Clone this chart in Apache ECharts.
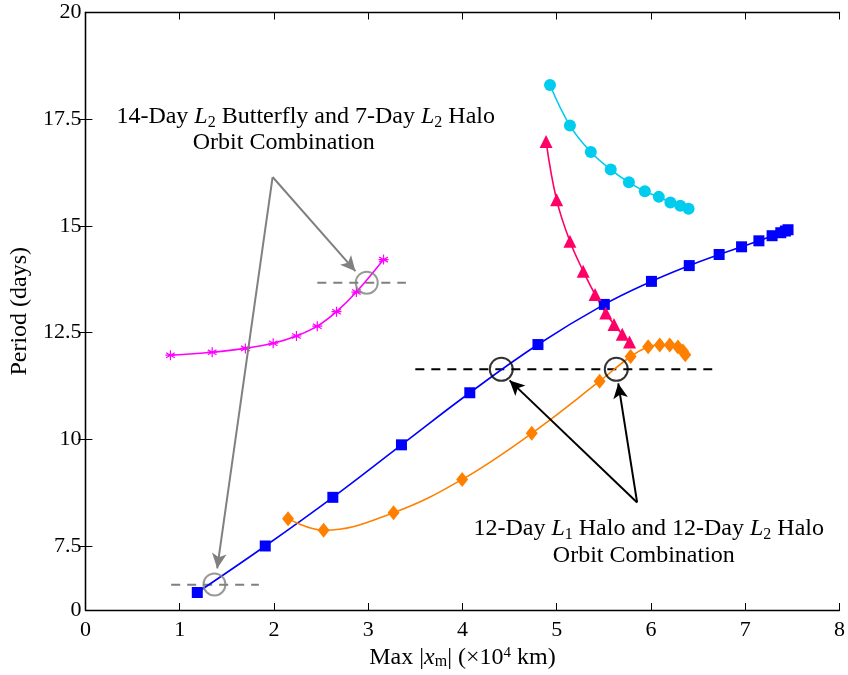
<!DOCTYPE html>
<html>
<head>
<meta charset="utf-8">
<script src="https://cdn.jsdelivr.net/npm/echarts@6/dist/echarts.min.js"></script>
<style>html,body{margin:0;padding:0;background:#fff}#c{width:848px;height:675px}</style>
</head>
<body>
<div id="c"></div>
<script>
// ---- data (x in 10^4 km, y = period in days) ----
const blueL1Halo = [[1.187,6.41],[1.908,7.50],[2.625,8.64],[3.353,9.87],[4.078,11.09],[4.801,12.22],[5.505,13.16],[6.005,13.70],[6.406,14.07],[6.723,14.33],[6.961,14.51],[7.145,14.65],[7.285,14.77],[7.377,14.84],[7.426,14.88],[7.454,14.91]];
const orangeL2Halo = [[2.150,8.14],[2.527,7.87],[3.269,8.28],[3.997,9.06],[4.735,10.14],[5.455,11.36],[5.784,11.94],[5.970,12.17],[6.093,12.21],[6.199,12.21],[6.286,12.16],[6.339,12.07],[6.364,11.98]];
const magentaButterfly = [[0.902,11.97],[1.345,12.04],[1.697,12.13],[1.992,12.25],[2.239,12.42],[2.460,12.65],[2.664,12.99],[2.875,13.45],[3.163,14.21]];
const crimsonSeries = [[4.887,16.98],[4.999,15.61],[5.140,14.64],[5.281,13.94],[5.407,13.39],[5.520,12.96],[5.608,12.69],[5.695,12.46],[5.773,12.28]];
const cyanSeries = [[4.929,18.30],[5.140,17.35],[5.362,16.73],[5.573,16.32],[5.766,16.02],[5.935,15.81],[6.083,15.68],[6.206,15.55],[6.311,15.47],[6.399,15.40]];

// annotation geometry (data coords)
const blackDash = [[3.5,11.64],[6.65,11.64]];
const grayDashUpper = [[2.46,13.67],[3.40,13.67]];
const grayDashLower = [[0.91,6.59],[1.84,6.59]];
const blackCircles = [[4.412,11.64],[5.632,11.64]];
const grayCircles = [[2.985,13.67],[1.369,6.60]];
const grayArrowTail = [1.986,16.145];
const grayArrowHeads = [[2.865,13.94],[1.398,6.975]];
const blackArrowTail = [5.853,8.52];
const blackArrowHeads = [[4.500,11.38],[5.653,11.31]];
const notePos = [[2.337,17.56],[2.104,16.94],[5.976,7.895],[5.924,7.27]];
const noteTexts = [
  '14-Day {it|L}{sub|2} Butterfly and 7-Day {it|L}{sub|2} Halo',
  'Orbit Combination',
  '12-Day {it|L}{sub|1} Halo and 12-Day {it|L}{sub|2} Halo',
  'Orbit Combination'
];

// axes
const xMin = 0, xMax = 8, xInterval = 1;
const yMin = 6, yMax = 20;
const yLabelValues = [6, 7.5, 10, 12.5, 15, 17.5, 20];
const yLabelTexts = ['0', '7.5', '10', '12.5', '15', '17.5', '20'];
const yTickValues = [7.5, 10, 12.5, 15, 17.5];

const FONT = 'Liberation Serif';
const TS = 24;
const rich = {
  it: {fontStyle: 'italic', fontFamily: FONT, fontSize: TS, color: '#000'},
  sub: {fontFamily: FONT, fontSize: 16, lineHeight: 16, verticalAlign: 'bottom', color: '#000'},
  sup: {fontFamily: FONT, fontSize: 15, lineHeight: 15, verticalAlign: 'top', color: '#000'}
};
const asterisk = 'path://M0,-5L0,5M-4.33,-2.5L4.33,2.5M-4.33,2.5L4.33,-2.5M-5,0L5,0';

const chart = echarts.init(document.getElementById('c'), null, {renderer: 'canvas'});
const axisCommon = {
  axisLine: {show: true, lineStyle: {color: '#000', width: 1.3}},
  splitLine: {show: false}
};
function curve(name, data, color, symbol, size) {
  return {
    name, type: 'line', data, smooth: 0.4, symbol, symbolSize: size,
    showAllSymbol: true,
    lineStyle: {color, width: 1.6},
    itemStyle: {color, borderColor: color, borderWidth: symbol.startsWith('path') ? 1.2 : 0},
    z: 3
  };
}
function arrows(tail, heads) {
  return heads.map(h => [
    {coord: tail, symbol: 'none', symbolSize: 0},
    {coord: h, symbol: 'arrow', symbolSize: [11, 15]}
  ]);
}
const option = {
  animation: false,
  backgroundColor: '#fff',
  grid: {left: 83.5, right: 6.3, top: 12.5, bottom: 64},
  xAxis: [
    Object.assign({}, axisCommon, {
      type: 'value', min: xMin, max: xMax, interval: xInterval,
      position: 'bottom',
      name: 'Max |{it|x}{sub|m}| (×10{sup|4} km)',
      nameLocation: 'middle', nameGap: 36,
      nameTextStyle: {fontFamily: FONT, fontSize: TS, color: '#000', rich: rich},
      axisTick: {inside: true, length: 7, lineStyle: {color: '#000'}},
      axisLabel: {fontFamily: FONT, fontSize: 22, color: '#000', margin: 9}
    }),
    Object.assign({}, axisCommon, {
      type: 'value', min: xMin, max: xMax, interval: xInterval,
      position: 'top',
      axisTick: {inside: true, length: 7, lineStyle: {color: '#000'}},
      axisLabel: {show: false}
    })
  ],
  yAxis: [
    Object.assign({}, axisCommon, {
      type: 'value', min: yMin, max: yMax,
      position: 'left',
      name: 'Period (days)', nameLocation: 'middle', nameGap: 51,
      nameTextStyle: {fontFamily: FONT, fontSize: TS, color: '#000'},
      axisTick: {inside: true, length: 7, customValues: yTickValues, lineStyle: {color: '#000'}},
      axisLabel: {fontFamily: FONT, fontSize: 22, color: '#000', margin: 4,
        customValues: yLabelValues,
        formatter: v => { const i = yLabelValues.indexOf(v); return i >= 0 ? yLabelTexts[i] : ''; }}
    }),
    Object.assign({}, axisCommon, {
      type: 'value', min: yMin, max: yMax,
      position: 'right',
      axisTick: {inside: true, length: 7, customValues: yTickValues, lineStyle: {color: '#000'}},
      axisLabel: {show: false}
    })
  ],
  series: [
    curve('L1 Halo', blueL1Halo, '#0000ff', 'rect', 11),
    curve('L2 Halo', orangeL2Halo, '#ff8000', 'diamond', [12, 15]),
    curve('L2 Butterfly', magentaButterfly, '#ff00ff', asterisk, 10),
    curve('Crimson', crimsonSeries, '#ff0066', 'triangle', 13),
    curve('Cyan', cyanSeries, '#00ccee', 'circle', 12),
    {
      type: 'line', data: blackDash, symbol: 'none', silent: true, z: 2,
      lineStyle: {color: '#000', width: 2, type: [9, 7]},
      markLine: {
        silent: true, animation: false,
        lineStyle: {color: '#000', width: 2, type: 'solid'},
        label: {show: false},
        data: arrows(blackArrowTail, blackArrowHeads)
      }
    },
    {
      type: 'line', data: grayDashUpper, symbol: 'none', silent: true, z: 2,
      lineStyle: {color: '#808080', width: 2, type: [9, 7]},
      markLine: {
        silent: true, animation: false,
        lineStyle: {color: '#808080', width: 2, type: 'solid'},
        label: {show: false},
        data: arrows(grayArrowTail, grayArrowHeads)
      }
    },
    {
      type: 'line', data: grayDashLower, symbol: 'none', silent: true, z: 2,
      lineStyle: {color: '#808080', width: 2, type: [9, 7]}
    },
    {
      type: 'scatter', data: blackCircles, symbol: 'circle', symbolSize: 23, silent: true, z: 5,
      itemStyle: {color: 'rgba(0,0,0,0)', borderColor: '#000', borderWidth: 2}
    },
    {
      type: 'scatter', data: grayCircles, symbol: 'circle', symbolSize: 22, silent: true, z: 5,
      itemStyle: {color: 'rgba(0,0,0,0)', borderColor: '#808080', borderWidth: 2}
    },
    {
      type: 'scatter', data: notePos, symbol: 'circle', symbolSize: 1, silent: true, z: 6,
      itemStyle: {color: 'rgba(0,0,0,0)'},
      label: {
        show: true, position: 'inside', fontFamily: FONT, fontSize: TS, color: '#000',
        textBorderWidth: 0, textBorderColor: 'transparent', opacity: 1,
        lineHeight: 28,
        formatter: p => noteTexts[p.dataIndex],
        rich: rich
      }
    }
  ]
};
chart.setOption(option);
</script>
</body>
</html>
